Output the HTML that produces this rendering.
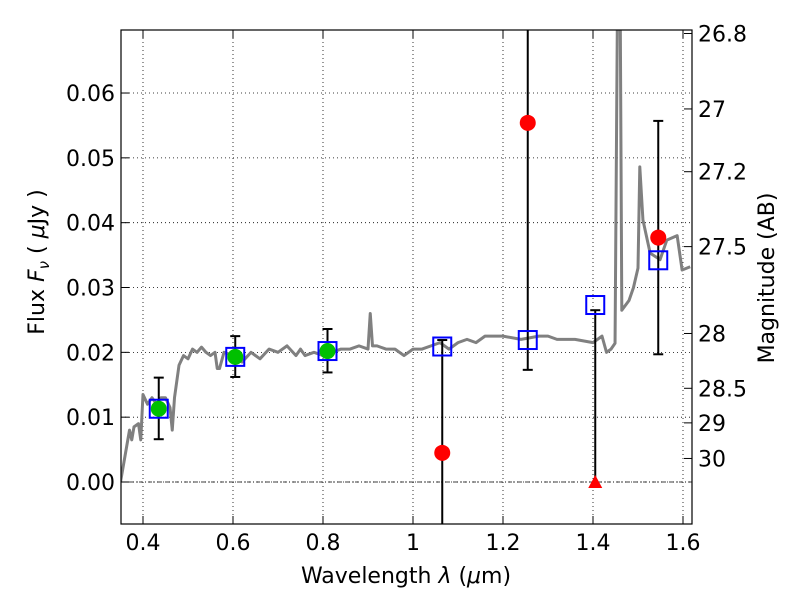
<!DOCTYPE html>
<html><head><meta charset="utf-8"><style>
body{margin:0;background:#fff;}
svg text{font-family:"DejaVu Sans","Liberation Sans",sans-serif;}
</style></head><body>
<svg id="chart" width="800" height="600" xmlns="http://www.w3.org/2000/svg"></svg>
<script>
const xTicks=[0.4,0.6,0.8,1.0,1.2,1.4,1.6];
const xTickLabels=["0.4","0.6","0.8","1","1.2","1.4","1.6"];
const yTicks=[0,0.01,0.02,0.03,0.04,0.05,0.06];
const yTickLabels=["0.00","0.01","0.02","0.03","0.04","0.05","0.06"];
const magTicks=[26.8,27,27.2,27.5,28,28.5,29,30];
const magTickLabels=["26.8","27","27.2","27.5","28","28.5","29","30"];
const specLam=[0.35,0.36,0.37,0.375,0.38,0.39,0.395,0.40,0.41,0.42,0.43,0.44,0.45,0.46,0.465,0.47,0.48,0.49,0.50,0.51,0.52,0.53,0.54,0.55,0.56,0.565,0.57,0.58,0.60,0.62,0.64,0.66,0.68,0.70,0.72,0.74,0.75,0.76,0.78,0.80,0.82,0.84,0.86,0.88,0.90,0.905,0.91,0.92,0.94,0.96,0.98,1.00,1.02,1.04,1.06,1.08,1.10,1.12,1.14,1.16,1.20,1.24,1.28,1.30,1.32,1.36,1.40,1.42,1.43,1.44,1.449,1.455,1.46,1.464,1.48,1.49,1.50,1.504,1.511,1.527,1.549,1.564,1.587,1.598,1.616];
const specFlux=[0.0,0.004,0.008,0.0065,0.0085,0.009,0.0065,0.0135,0.012,0.013,0.012,0.013,0.013,0.0115,0.008,0.013,0.018,0.0195,0.019,0.0205,0.020,0.0208,0.020,0.0195,0.020,0.0175,0.0175,0.020,0.0195,0.0185,0.020,0.019,0.0205,0.020,0.021,0.0195,0.0205,0.0195,0.020,0.0195,0.020,0.0205,0.0205,0.021,0.0205,0.026,0.021,0.021,0.0205,0.0205,0.0195,0.0205,0.0205,0.021,0.0215,0.0205,0.0215,0.022,0.0215,0.0225,0.0225,0.022,0.0225,0.0225,0.022,0.022,0.0215,0.0225,0.020,0.0205,0.0214,0.08,0.08,0.0265,0.028,0.030,0.033,0.0486,0.0404,0.0353,0.0343,0.0373,0.038,0.0327,0.0332];
const detLam=[0.435,0.605,0.81];
const detFlux=[0.0113,0.0193,0.0202];
const detLo=[0.0066,0.0162,0.0169];
const detHi=[0.0161,0.0225,0.0236];
const redLam=[1.065,1.255,1.545];
const redFlux=[0.0045,0.0554,0.0377];
const redLo=[-0.02,0.0173,0.0197];
const redHi=[0.0219,0.09,0.0557];
const limLam=[1.405];
const limFlux=[0.0];
const limHi=[0.0265];
const modLam=[0.435,0.605,0.81,1.065,1.255,1.405,1.545];
const modFlux=[0.0113,0.0193,0.0202,0.0209,0.0219,0.0273,0.0342];

const L=121,R=692,T=30,B=524;
const X=v=>143+(v-0.4)*450;
const Y=v=>482-v*6483;
const NS="http://www.w3.org/2000/svg";
const svg=document.getElementById('chart');
function mk(tag,attrs,parent){const e=document.createElementNS(NS,tag);for(const k in attrs)e.setAttribute(k,attrs[k]);(parent||svg).appendChild(e);return e;}
const clipDef=mk('defs',{});const cp=mk('clipPath',{id:'pc'},clipDef);mk('rect',{x:L,y:T,width:R-L,height:B-T},cp);
const g=mk('g',{'clip-path':'url(#pc)'});
xTicks.forEach(v=>{const l=mk('line',{x1:X(v),x2:X(v),y1:T,y2:B,stroke:'#000','stroke-width':0.8,'stroke-dasharray':'1,3'},g);

});
yTicks.forEach(v=>{const l=mk('line',{x1:L,x2:R,y1:Y(v),y2:Y(v),stroke:'#000','stroke-width':0.8,'stroke-dasharray':'1,3'},g);

});
const zl=mk('line',{x1:L,x2:R,y1:Y(0),y2:Y(0),stroke:'#000','stroke-width':0.8,'stroke-dasharray':'4,2,1,2'},g);


const sp=mk('polyline',{points:specLam.map((l,i)=>X(l)+','+Y(specFlux[i])).join(' '),fill:'none',stroke:'#808080','stroke-width':3,'stroke-linejoin':'round'},g);


function errbar(x,lo,hi,capLo,capHi){
 const e=mk('line',{x1:X(x),x2:X(x),y1:Y(lo),y2:Y(hi),stroke:'#000','stroke-width':2},g);
 
 
 if(capLo)mk('line',{x1:X(x)-5,x2:X(x)+5,y1:Y(lo),y2:Y(lo),stroke:'#000','stroke-width':2},g);
 if(capHi)mk('line',{x1:X(x)-5,x2:X(x)+5,y1:Y(hi),y2:Y(hi),stroke:'#000','stroke-width':2},g);
}
detLam.forEach((l,i)=>errbar(l,detLo[i],detHi[i],true,true));
redLam.forEach((l,i)=>errbar(l,redLo[i],redHi[i],redLo[i]>-0.006,redHi[i]<0.069));
limLam.forEach((l,i)=>errbar(l,limFlux[i],limHi[i],false,true));
modLam.forEach((l,i)=>{const r=mk('rect',{x:X(l)-9,y:Y(modFlux[i])-9,width:18,height:18,fill:'none',stroke:'#0000ff','stroke-width':2},g);

});
detLam.forEach((l,i)=>{const c=mk('circle',{cx:X(l),cy:Y(detFlux[i]),r:8,fill:'#00c000'},g);

});
redLam.forEach((l,i)=>{const c=mk('circle',{cx:X(l),cy:Y(redFlux[i]),r:8,fill:'#ff0000'},g);

});
limLam.forEach((l,i)=>{const x=X(l),y=Y(limFlux[i]);const t=mk('polygon',{points:`${x},${y-7} ${x-7},${y+6} ${x+7},${y+6}`,fill:'#ff0000'},g);

});
const fr=mk('rect',{x:L,y:T,width:R-L,height:B-T,fill:'none',stroke:'#000','stroke-width':1.2});


xTicks.forEach((v,i)=>{mk('line',{x1:X(v),x2:X(v),y1:B,y2:B-8,stroke:'#000'});mk('line',{x1:X(v),x2:X(v),y1:T,y2:T+8,stroke:'#000'});
const t=mk('text',{x:X(v),y:B+26,'font-size':22,'text-anchor':'middle'});t.textContent=xTickLabels[i];

});
yTicks.forEach((v,i)=>{mk('line',{x1:L,x2:L+8,y1:Y(v),y2:Y(v),stroke:'#000'});
const t=mk('text',{x:L-6,y:Y(v)+8,'font-size':22,'text-anchor':'end'});t.textContent=yTickLabels[i];

});
magTicks.forEach((m,i)=>{const y=Y(Math.pow(10,(23.9-m)/2.5));mk('line',{x1:R,x2:R-8,y1:y,y2:y,stroke:'#000'});
const t=mk('text',{x:R+6,y:y+8,'font-size':22});t.textContent=magTickLabels[i];

});
const xt=mk('text',{x:406,y:583,'font-size':22,'text-anchor':'middle'});xt.innerHTML='Wavelength  <tspan font-style="italic">λ</tspan> (<tspan font-style="italic">μ</tspan>m)';


const yt=mk('text',{x:0,y:0,'font-size':22,'text-anchor':'middle',transform:'translate(44,262) rotate(-90)'});yt.innerHTML='Flux  <tspan font-style="italic">F</tspan><tspan font-style="italic" font-size="15" dy="5">ν</tspan><tspan dy="-5">  (  </tspan><tspan font-style="italic">μ</tspan>Jy )';


const rt=mk('text',{x:0,y:0,'font-size':22,'text-anchor':'middle',transform:'translate(774,278) rotate(-90)'});rt.textContent='Magnitude (AB)';


</script>
</body></html>
